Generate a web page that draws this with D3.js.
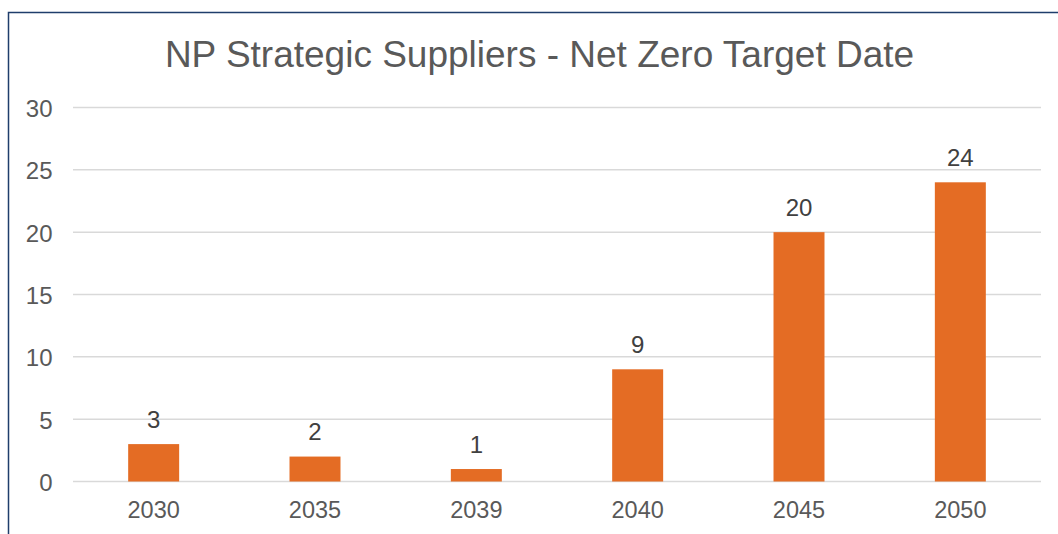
<!DOCTYPE html>
<html>
<head>
<meta charset="utf-8">
<script src="https://cdn.jsdelivr.net/npm/d3@7"></script>
<style>
  body { margin: 0; background: #fff; }
  svg { display: block; font-family: "Liberation Sans", Arial, sans-serif; }
</style>
</head>
<body>
<div id="chart"></div>
<script>
const years = ["2030", "2035", "2039", "2040", "2045", "2050"];
const counts = [3, 2, 1, 9, 20, 24];
const yTicks = [0, 5, 10, 15, 20, 25, 30];
const title = "NP Strategic Suppliers - Net Zero Target Date";

const width = 1058;
const height = 534;
const margin = { top: 107.5, right: 17, bottom: 52.5, left: 73 };

const svg = d3.select("#chart")
  .append("svg")
  .attr("width", width)
  .attr("height", height);

// frame (only top and left edges show in the crop)
svg.append("path")
  .attr("d", `M8.5,${height} V12.5 H${width}`)
  .attr("fill", "none")
  .attr("stroke", "#1f3d6b")
  .attr("stroke-width", 1.5);

const x = d3.scaleBand()
  .domain(years)
  .range([margin.left, width - margin.right])
  .paddingInner(0.684)
  .paddingOuter(0.342);

const y = d3.scaleLinear()
  .domain([0, 30])
  .range([height - margin.bottom, margin.top]);

// gridlines
svg.append("g")
  .selectAll("line")
  .data(yTicks)
  .enter()
  .append("line")
  .attr("x1", margin.left)
  .attr("x2", width - margin.right)
  .attr("y1", (d) => y(d))
  .attr("y2", (d) => y(d))
  .attr("stroke", "#d9d9d9")
  .attr("stroke-width", 1.5);

// y axis labels
const yAxis = svg.append("g")
  .attr("transform", `translate(52.5,0)`)
  .call(d3.axisLeft(y).tickValues(yTicks).tickSize(0).tickPadding(0));
yAxis.select(".domain").remove();
yAxis.selectAll("text")
  .attr("font-size", 24)
  .attr("dy", "0.37em")
  .attr("fill", "#595959")
  .attr("font-family", "Liberation Sans, Arial, sans-serif");

// x axis labels
const xAxis = svg.append("g")
  .attr("transform", `translate(0,518)`)
  .call(d3.axisBottom(x).tickSize(0).tickPadding(0));
xAxis.select(".domain").remove();
xAxis.selectAll("text")
  .attr("dy", 0)
  .attr("font-size", 23.5)
  .attr("fill", "#595959")
  .attr("font-family", "Liberation Sans, Arial, sans-serif");

// bars
svg.append("g")
  .selectAll("rect")
  .data(counts)
  .enter()
  .append("rect")
  .attr("x", (d, i) => x(years[i]))
  .attr("y", (d) => y(d))
  .attr("width", x.bandwidth())
  .attr("height", (d) => y(0) - y(d))
  .attr("fill", "#e46c24");

// value labels
svg.append("g")
  .selectAll("text")
  .data(counts)
  .enter()
  .append("text")
  .attr("x", (d, i) => x(years[i]) + x.bandwidth() / 2)
  .attr("y", (d) => y(d) - 16.5)
  .attr("text-anchor", "middle")
  .attr("font-size", 24)
  .attr("fill", "#404040")
  .text((d) => d);

// title
svg.append("text")
  .attr("x", 539.5)
  .attr("y", 67)
  .attr("text-anchor", "middle")
  .attr("font-size", 37)
  .attr("fill", "#595959")
  .text(title);
</script>
</body>
</html>
